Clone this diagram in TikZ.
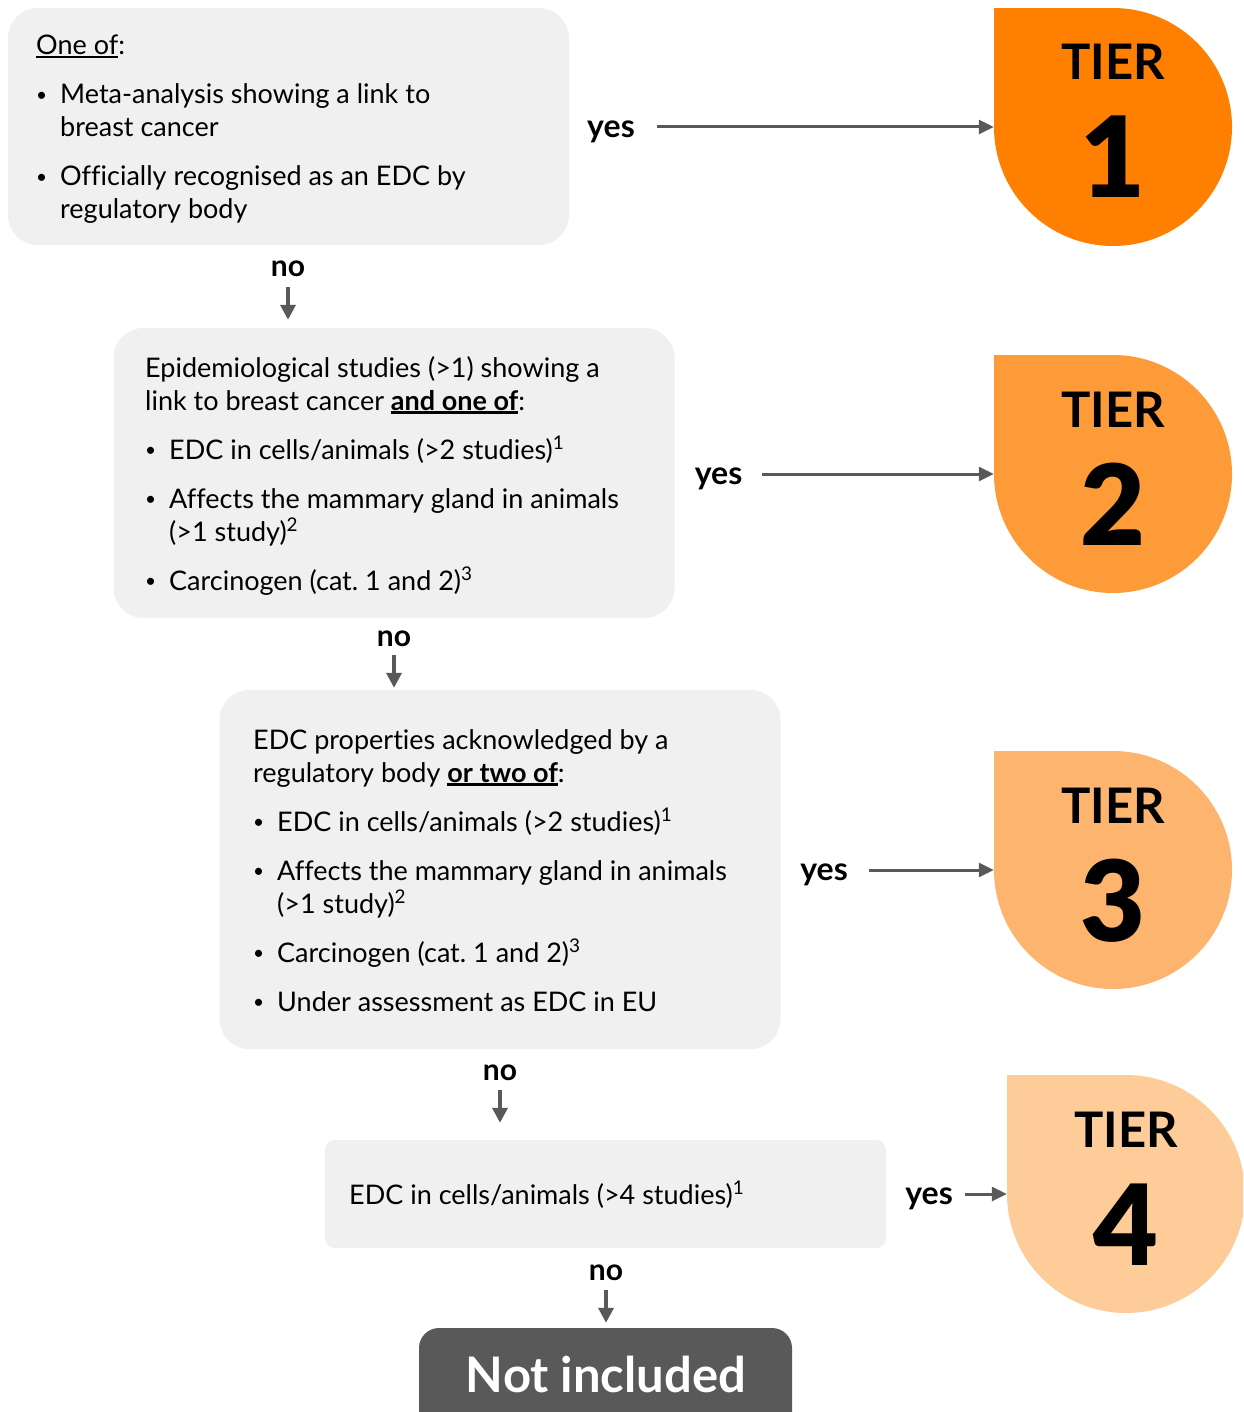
\documentclass[tikz,border=0pt]{standalone}
\usepackage{fontspec}
\setmainfont{Lato}[Ligatures=NoCommon]
\newfontfamily\latoblack{Lato Black}
\usetikzlibrary{arrows.meta}
\definecolor{boxgray}{HTML}{F0F0F0}
\definecolor{arrgray}{HTML}{595959}
\definecolor{tierA}{HTML}{FF8000}
\definecolor{tierB}{HTML}{FD9B38}
\definecolor{tierC}{HTML}{FDB46F}
\definecolor{tierD}{HTML}{FECC99}
\newcommand\bul{\makebox[24pt][l]{\raisebox{2.5pt}{\fontsize{19}{19}\selectfont •}}}
\newcommand\ind{\hspace*{24pt}}
\newcommand\myul[1]{\leavevmode\setbox0\hbox{#1}\rlap{\rule[-3.5pt]{\wd0}{2.2pt}}\box0}
\newcommand\bodyfont{\fontsize{27}{33}\selectfont\frenchspacing}
\begin{document}
\begin{tikzpicture}[x=1pt,y=-1pt,
  critbox/.style={fill=boxgray, rounded corners=30pt, inner sep=0, minimum width=561pt},
  bodytxt/.style={anchor=base west, inner sep=0},
  lbl/.style={anchor=base, inner sep=0, font=\bfseries\fontsize{30}{30}\selectfont},
  ylbl/.style={anchor=base, inner sep=0, font=\bfseries\fontsize{32}{32}\selectfont},
  arr/.style={draw=arrgray, line width=3pt, -{Triangle[length=15pt,width=14pt]}},
  darr/.style={draw=arrgray, line width=3.5pt, -{Triangle[length=15pt,width=15pt]}},
  tiercirc/.style={circle, minimum size=238pt, inner sep=0},
  tierword/.style={anchor=base, inner sep=0, font=\bfseries\fontsize{49}{49}\selectfont},
  tiernum/.style={anchor=base, inner sep=0, font=\latoblack\fontsize{112}{112}\selectfont}
]
\useasboundingbox (0,0) rectangle (1243,1412);
\clip (0,0) rectangle (1243,1412);
\fill[white] (0,0) rectangle (1243,1412);

% criteria boxes
\node[critbox, minimum height=237pt] (b1) at (288.5,126.5) {};
\node[critbox, minimum height=290pt] (b2) at (394,473) {};
\node[critbox, minimum height=359pt] (b3) at (500,869.5) {};
\node[critbox, rounded corners=10pt, minimum height=108pt] (b4) at (605.5,1194) {};
\node[fill=arrgray, rounded corners=20pt, inner sep=0, minimum width=373pt, minimum height=110pt] (ni) at (605.5,1383) {};

% texts
\node[bodytxt] (b1t) at (36,55) {\parbox[t]{520pt}{\bodyfont
\myul{One of}:\\[16pt]
\bul Meta-analysis showing a link to\\
\ind breast cancer\\[16pt]
\bul Officially recognised as an EDC by\\
\ind regulatory body}};

\node[bodytxt] (b2t) at (145,377) {\parbox[t]{520pt}{\bodyfont
Epidemiological studies (>1) showing a\\
link to breast cancer \textbf{\myul{and one of}}:\\[16pt]
\bul EDC in cells/animals (>2 studies)\textsuperscript{1}\\[16pt]
\bul Affects the mammary gland in animals\\
\ind (>1 study)\textsuperscript{2}\\[16pt]
\bul Carcinogen (cat. 1 and 2)\textsuperscript{3}}};

\node[bodytxt] (b3t) at (253,749) {\parbox[t]{520pt}{\bodyfont
EDC properties acknowledged by a\\
regulatory body \textbf{\myul{or two of}}:\\[16pt]
\bul EDC in cells/animals (>2 studies)\textsuperscript{1}\\[16pt]
\bul Affects the mammary gland in animals\\
\ind (>1 study)\textsuperscript{2}\\[16pt]
\bul Carcinogen (cat. 1 and 2)\textsuperscript{3}\\[16pt]
\bul Under assessment as EDC in EU}};

\node[bodytxt] (b4t) at (349,1204) {\bodyfont EDC in cells/animals (>4 studies)\textsuperscript{1}};

\node[anchor=base, inner sep=0, text=white, font=\bfseries\fontsize{49}{49}\selectfont] (nit) at (606,1392) {Not included};

% tiers
\node[tiercirc, fill=tierA] (t1) at (1113,127) {};
\fill[tierA] (t1.west) rectangle (t1.north);
\node[tiercirc, fill=tierB] (t2) at (1113,474) {};
\fill[tierB] (t2.west) rectangle (t2.north);
\node[tiercirc, fill=tierC] (t3) at (1113,870) {};
\fill[tierC] (t3.west) rectangle (t3.north);
\node[tiercirc, fill=tierD] (t4) at (1126,1194) {};
\fill[tierD] (t4.west) rectangle (t4.north);

\foreach \t/\n in {t1/1,t2/2,t3/3,t4/4}{
  \node[tierword] (\t w) at ([yshift=47pt]\t.center) {TIER};
  \node[tiernum] (\t n) at ([yshift=-71pt]\t.center) {\n};
}

% yes labels and arrows
\node[ylbl] (y1) at (611,138) {yes};
\node[ylbl] (y2) at (718.5,484) {yes};
\node[ylbl] (y3) at (824,880) {yes};
\node[ylbl] (y4) at (929,1204) {yes};
\draw[arr, shorten <=22pt] (y1.east |- t1.west) -- (t1.west);
\draw[arr, shorten <=20pt] (y2.east |- t2.west) -- (t2.west);
\draw[arr, shorten <=21pt] (y3.east |- t3.west) -- (t3.west);
\draw[arr, shorten <=12pt] (y4.east |- t4.west) -- (t4.west);

% no labels and arrows
\node[lbl] (n1) at (288,277) {no};
\node[lbl] (n2) at (394,646) {no};
\node[lbl] (n3) at (500,1080) {no};
\node[lbl] (n4) at (606,1280) {no};
\draw[darr, shorten <=10pt, shorten >=8pt] (n1.south) -- (n1.south |- b2.north);
\draw[darr, shorten <=9pt, shorten >=2pt] (n2.south) -- (n2.south |- b3.north);
\draw[darr, shorten <=10pt, shorten >=17pt] (n3.south) -- (n3.south |- b4.north);
\draw[darr, shorten <=10pt, shorten >=5pt] (n4.south) -- (n4.south |- ni.north);
\end{tikzpicture}
\end{document}
